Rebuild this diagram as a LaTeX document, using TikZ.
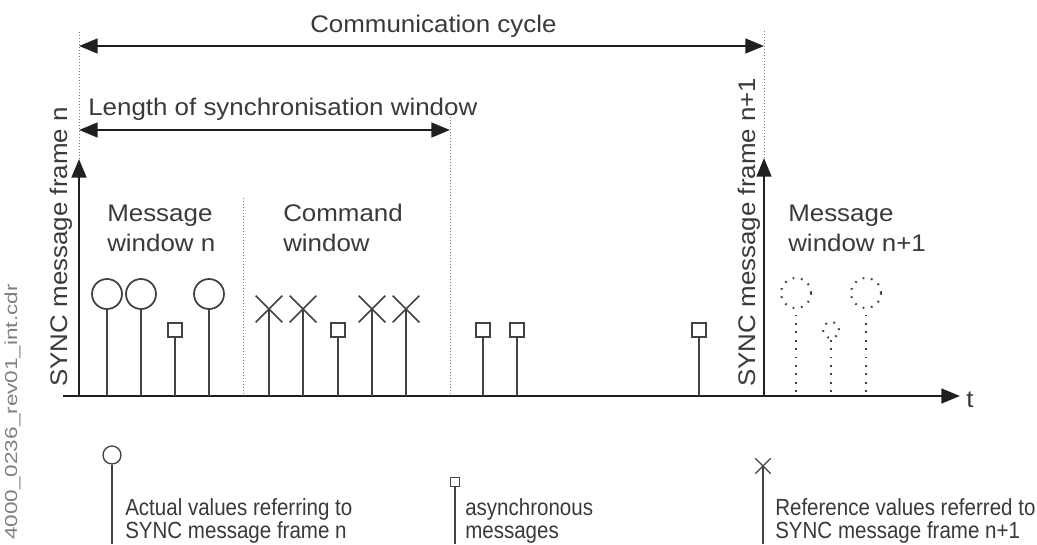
\documentclass[tikz,border=0pt]{standalone}
\usepackage{fontspec}
\setmainfont{Liberation Sans}
\newfontfamily\labelfont[FakeStretch=1.08]{Liberation Sans}
\newfontfamily\legendfont[FakeStretch=0.88]{Liberation Sans}
\newfontfamily\filefont[FakeStretch=1.3]{Liberation Sans}
\usetikzlibrary{arrows.meta,shapes.misc}
\definecolor{ink}{HTML}{231F20}
\definecolor{txt}{HTML}{3A3A3A}
\begin{document}
\begin{tikzpicture}[x=0.75pt, y=-0.75pt,
  lbl/.style={inner sep=0, text=txt, font=\labelfont\fontsize{18}{22.5}\selectfont,
              align=left, anchor=base west},
  leg/.style={inner sep=0, text=txt, font=\legendfont\fontsize{17.5}{16.75}\selectfont,
              align=left, anchor=base west},
  axis/.style={-{Triangle[length=14pt,width=11pt]}, line width=2pt, draw=ink},
  span/.style={{Triangle[length=14pt,width=11pt]}-{Triangle[length=14pt,width=11pt]},
               line width=2pt, draw=ink},
  guide/.style={draw=gray, line width=0.6pt, dash pattern=on 0.75pt off 1.5pt},
  stem/.style={draw=ink!85, line width=1.3pt},
  ghost/.style={draw=ink!85, line width=1.5pt, dash pattern=on 1.3pt off 5pt},
  actual/.style={circle, draw=ink!85, line width=1.3pt, minimum size=22.5pt, inner sep=0},
  refval/.style={cross out, draw=ink!85, line width=1.3pt, minimum size=18.75pt, inner sep=0},
  async/.style={rectangle, draw=ink!85, line width=1.3pt, minimum size=10.5pt, inner sep=0}
]
  \fill[white] (0,0) rectangle (1037,544);
  \useasboundingbox (0,0) rectangle (1037,544);

  % time axis and SYNC frames
  \coordinate (o) at (63,396);
  \coordinate (tend) at (960,396);
  \draw[axis] (o) -- (tend);
  \node[lbl] (t) at (966,407) {t};

  \coordinate (s0) at (79,396);
  \coordinate (s0top) at (79,159);
  \coordinate (s0end) at (79,30);
  \coordinate (s1) at (764,396);
  \coordinate (s1top) at (764,158);
  \coordinate (s1end) at (764,30);
  \draw[axis] (s0) -- (s0top);
  \draw[guide] (s0top) -- (s0end);
  \draw[axis] (s1) -- (s1top);
  \draw[guide] (s1top) -- (s1end);
  \node[lbl, rotate=90] (sn) at (67,387) {SYNC message frame n};
  \node[lbl, rotate=90] (sn1) at (755,387) {SYNC message frame n+1};

  % cycle and window lengths
  \coordinate (c0) at (79,46);
  \coordinate (c1) at (764,46);
  \draw[span] (c0) -- (c1);
  \node[lbl] (cyc) at (310,32) {Communication cycle};

  \coordinate (w0) at (79,130);
  \coordinate (w1) at (450,130);
  \coordinate (wtop) at (450,117);
  \coordinate (wbot) at (450,396);
  \draw[span] (w0) -- (w1);
  \draw[guide] (wtop) -- (wbot);
  \node[lbl] (len) at (88,115) {Length of synchronisation window};

  \coordinate (dtop) at (243,198);
  \coordinate (dbot) at (243,396);
  \draw[guide] (dtop) -- (dbot);

  \node[lbl] (mw) at (107,251) {Message\\window n};
  \node[lbl] (cw) at (283,251) {Command\\window};
  \node[lbl] (mw1) at (788,251) {Message\\window n+1};

  % message window n
  \node[actual] (a1) at (107,294) {};
  \node[actual] (a2) at (141,294) {};
  \node[async] (q1) at (175,330) {};
  \node[actual] (a3) at (209,294) {};
  \draw[stem] (a1 |- o) -- (a1.south);
  \draw[stem] (a2 |- o) -- (a2.south);
  \draw[stem] (q1 |- o) -- (q1.south);
  \draw[stem] (a3 |- o) -- (a3.south);

  % command window
  \node[refval] (x1) at (269,309) {};
  \node[refval] (x2) at (303,309) {};
  \node[async] (q2) at (338,330) {};
  \node[refval] (x3) at (372,309) {};
  \node[refval] (x4) at (406,309) {};
  \draw[stem] (x1 |- o) -- (x1.center);
  \draw[stem] (x2 |- o) -- (x2.center);
  \draw[stem] (q2 |- o) -- (q2.south);
  \draw[stem] (x3 |- o) -- (x3.center);
  \draw[stem] (x4 |- o) -- (x4.center);

  % asynchronous messages
  \node[async] (q3) at (483,330) {};
  \node[async] (q4) at (517,330) {};
  \node[async] (q5) at (699,330) {};
  \draw[stem] (q3 |- o) -- (q3.south);
  \draw[stem] (q4 |- o) -- (q4.south);
  \draw[stem] (q5 |- o) -- (q5.south);

  % message window n+1
  \node[actual, ghost] (g1) at (796,293) {};
  \node[actual, ghost, minimum size=12pt] (g2) at (831,330) {};
  \node[actual, ghost] (g3) at (866,293) {};
  \coordinate (g1b) at (796,392);
  \coordinate (g2b) at (831,392);
  \coordinate (g3b) at (866,392);
  \draw[ghost] (g1b) -- (g1.south);
  \draw[ghost] (g2b) -- (g2.south);
  \draw[ghost] (g3b) -- (g3.south);

  % legend
  \node[actual, line width=1pt, minimum size=13.5pt] (la) at (112,455) {};
  \coordinate (lab) at (112,544);
  \draw[stem, line width=1pt] (la.south) -- (lab);
  \node[leg] (lat) at (125,538) {Actual values referring to\\SYNC message frame n};

  \node[async, line width=1pt, minimum size=6.75pt] (lq) at (455,482) {};
  \coordinate (lqb) at (455,544);
  \draw[stem, line width=1pt] (lq.south) -- (lqb);
  \node[leg] (lqt) at (465,538) {asynchronous\\messages};

  \node[refval, line width=1pt, minimum size=10.5pt] (lx) at (763,466) {};
  \coordinate (lxb) at (763,544);
  \draw[stem, line width=1pt] (lx.center) -- (lxb);
  \node[leg] (lxt) at (775,538) {Reference values referred to\\SYNC message frame n+1};

  \node[inner sep=0, rotate=90, anchor=base west, text=gray,
        font=\filefont\fontsize{13}{13}\selectfont] (file) at (17,540) {4000\_0236\_rev01\_int.cdr};
\end{tikzpicture}
\end{document}
